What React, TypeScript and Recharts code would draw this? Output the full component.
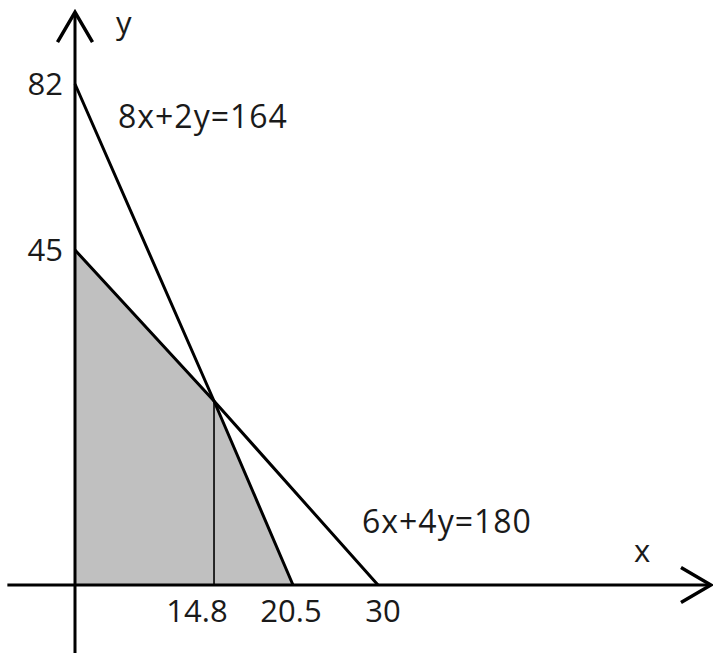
import React from 'react';
import { ComposedChart, XAxis, YAxis, Line, Area, ReferenceLine } from 'recharts';

// ---- data ----
const xTickValues = [14.8, 20.5, 30];
const yTickValues = [82, 45];

// constraint 8x + 2y = 164
const lineAX = [0, 14.8, 20.5];
const lineAY = [82, 22.8, 0];
const lineALabel = '8x+2y=164';

// constraint 6x + 4y = 180
const lineBX = [0, 14.8, 30];
const lineBY = [45, 22.8, 0];
const lineBLabel = '6x+4y=180';

// feasible region (upper boundary, filled down to y = 0)
const regionX = [0, 14.8, 20.5];
const regionY = [45, 22.8, 0];

// vertical drop from the corner point
const dropX = [14.8, 14.8];
const dropY = [0, 22.8];

// axis extents (data units)
const xAxisExtent = [-7.2, 39.94];
const yAxisExtent = [-8.5, 97.4];

const lineAData = lineAX.map((x, i) => ({ x, y: lineAY[i] }));
const lineBData = lineBX.map((x, i) => ({ x, y: lineBY[i] }));
const regionData = regionX.map((x, i) => ({ x, y: regionY[i] }));

// ---- schematic (not-to-scale) axis scale: piecewise linear between knots ----
const X_KNOTS = [0, 14.8, 20.5, 30, 40];
const X_AT = [0, 0.2179, 0.3417, 0.4749, 1];
const Y_KNOTS = [0, 22.8, 45, 82, 100];
const Y_AT = [0, 0.3145, 0.5726, 0.8564, 1];

function makeSchematicScale(values: number[], at: number[]): any {
  let dom: number[] = [values[0], values[values.length - 1]];
  let rng: number[] = [0, 1];
  const n = values.length;
  const frac = (v: number) => {
    let i = 0;
    if (v <= values[0]) i = 0;
    else if (v >= values[n - 1]) i = n - 2;
    else {
      while (i < n - 2 && v > values[i + 1]) i++;
    }
    const f = (v - values[i]) / (values[i + 1] - values[i]);
    return at[i] + f * (at[i + 1] - at[i]);
  };
  const scale: any = (v: number) => rng[0] + (rng[1] - rng[0]) * frac(Number(v));
  scale.domain = (d?: number[]) => {
    if (d === undefined) return dom.slice();
    dom = d.slice();
    return scale;
  };
  scale.range = (r?: number[]) => {
    if (r === undefined) return rng.slice();
    rng = r.slice();
    return scale;
  };
  scale.copy = () => makeSchematicScale(values, at).domain(dom).range(rng);
  scale.ticks = () => values.slice();
  scale.invert = (p: number) => {
    const t = (p - rng[0]) / (rng[1] - rng[0]);
    let i = 0;
    while (i < n - 2 && t > at[i + 1]) i++;
    return values[i] + ((t - at[i]) / (at[i + 1] - at[i])) * (values[i + 1] - values[i]);
  };
  return scale;
}

const xScale = makeSchematicScale(X_KNOTS, X_AT);
const yScale = makeSchematicScale(Y_KNOTS, Y_AT);

const FONT = '"Open Sans", sans-serif';
const FS = 31;
const LABEL_FS = 32;
const INK = '#1a1a1a';
const xTickDx = [-17, -2, 5];

const XTick = (props: any) => {
  const { x, y, payload, index } = props;
  return (
    <text x={x + (xTickDx[index] ?? 0)} y={y} dy="0.36em" textAnchor="middle" fontFamily={FONT} fontSize={FS} fill={INK}>
      {payload.value}
    </text>
  );
};

const YTick = (props: any) => {
  const { x, y, payload } = props;
  return (
    <text x={x} y={y} dy="0.36em" textAnchor="end" fontFamily={FONT} fontSize={FS} fill={INK}>
      {payload.value}
    </text>
  );
};

const ArrowLine = (props: any) => {
  const { x1, y1, x2, y2 } = props;
  const dx = x2 - x1;
  const dy = y2 - y1;
  const len = Math.hypot(dx, dy) || 1;
  const ux = dx / len;
  const uy = dy / len;
  const back = 30;
  const side = 17.5;
  const ax = x2 - ux * back;
  const ay = y2 - uy * back;
  const px = -uy;
  const py = ux;
  return (
    <g>
      <line x1={x1} y1={y1} x2={x2} y2={y2} stroke="#000" strokeWidth={3} />
      <polyline
        points={`${ax + px * side},${ay + py * side} ${x2},${y2} ${ax - px * side},${ay - py * side}`}
        fill="none"
        stroke="#000"
        strokeWidth={3.5}
      />
    </g>
  );
};

export default function App() {
  return (
    <div style={{ position: 'absolute', left: 0, top: 0, background: '#fff' }}>
      <ComposedChart width={713} height={653} margin={{ top: 0, right: 0, bottom: 0, left: 0 }}>
        <XAxis
          dataKey="x"
          type="number"
          domain={[X_KNOTS[0], X_KNOTS[X_KNOTS.length - 1]]}
          scale={xScale}
          ticks={xTickValues}
          interval={0}
          height={68}
          axisLine={false}
          tickLine={false}
          tickSize={0}
          tickMargin={26}
          tick={<XTick />}
        />
        <YAxis
          type="number"
          domain={[Y_KNOTS[0], Y_KNOTS[Y_KNOTS.length - 1]]}
          scale={yScale}
          ticks={yTickValues}
          interval={0}
          width={75}
          axisLine={false}
          tickLine={false}
          tickSize={0}
          tickMargin={12}
          tick={<YTick />}
        />
        <Area
          data={regionData}
          dataKey="y"
          type="linear"
          baseValue={0}
          fill="#c0c0c0"
          fillOpacity={1}
          stroke="none"
          isAnimationActive={false}
        />
        <ReferenceLine
          segment={[{ x: dropX[0], y: dropY[0] }, { x: dropX[1], y: dropY[1] }]}
          stroke="#000"
          strokeWidth={1.6}
          ifOverflow="visible"
          zIndex={450}
        />
        <Line data={lineAData} dataKey="y" type="linear" stroke="#000" strokeWidth={3} dot={false} activeDot={false} isAnimationActive={false} />
        <Line data={lineBData} dataKey="y" type="linear" stroke="#000" strokeWidth={3} dot={false} activeDot={false} isAnimationActive={false} />
        <ReferenceLine
          segment={[{ x: xAxisExtent[0], y: 0 }, { x: xAxisExtent[1], y: 0 }]}
          ifOverflow="visible"
          shape={ArrowLine}
          zIndex={450}
        />
        <ReferenceLine
          segment={[{ x: 0, y: yAxisExtent[0] }, { x: 0, y: yAxisExtent[1] }]}
          ifOverflow="visible"
          shape={ArrowLine}
          zIndex={450}
        />
        <text x={116} y={33.5} fontFamily={FONT} fontSize={FS} fill={INK}>y</text>
        <text x={634} y={562} fontFamily={FONT} fontSize={FS} fill={INK}>x</text>
        <text x={118} y={128} fontFamily={FONT} fontSize={LABEL_FS} letterSpacing={1} fill={INK}>{lineALabel}</text>
        <text x={362} y={533} fontFamily={FONT} fontSize={LABEL_FS} letterSpacing={1} fill={INK}>{lineBLabel}</text>
      </ComposedChart>
    </div>
  );
}
